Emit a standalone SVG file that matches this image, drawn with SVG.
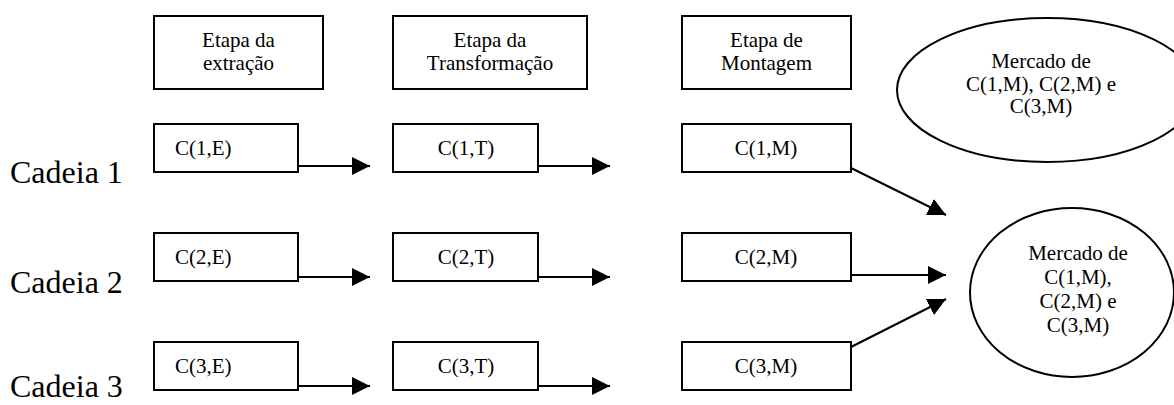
<svg xmlns="http://www.w3.org/2000/svg" width="1174" height="405" viewBox="0 0 1174 405">
<defs>
<style>
.box{fill:#fff;stroke:#000;stroke-width:2}
.t{font-family:"Liberation Serif","Times New Roman",serif;font-size:21px;fill:#000}
.c{text-anchor:middle}
.big{font-family:"Liberation Serif","Times New Roman",serif;font-size:32px;fill:#000}
.ln{stroke:#000;stroke-width:2;fill:none}
</style>
<marker id="ah" markerUnits="userSpaceOnUse" markerWidth="18" markerHeight="18" viewBox="0 0 16 16" refX="16" refY="8" orient="auto">
<path d="M0,0 L16,8 L0,16 Z" fill="#000"/>
</marker>
</defs>
<rect width="1174" height="405" fill="#fff"/>

<g id="stage-extracao"><rect class="box" x="154" y="16" width="169" height="73"/>
<text class="t c" x="238.5" y="47">Etapa da</text><text class="t c" x="238.5" y="70">extração</text></g>
<g id="stage-transformacao"><rect class="box" x="393" y="16" width="194" height="73"/>
<text class="t c" x="490" y="47">Etapa da</text><text class="t c" x="490" y="70">Transformação</text></g>
<g id="stage-montagem"><rect class="box" x="682" y="16" width="169" height="73"/>
<text class="t c" x="766.5" y="47">Etapa de</text><text class="t c" x="766.5" y="70">Montagem</text></g>
<g id="market-top"><ellipse class="box" cx="1047" cy="90" rx="150" ry="72"/>
<text class="t c" x="1041" y="68">Mercado de</text><text class="t c" x="1041" y="91">C(1,M), C(2,M) e</text><text class="t c" x="1041" y="113">C(3,M)</text></g>

<g id="label-cadeia1"><text class="big" x="10" y="183">Cadeia 1</text></g>
<g id="label-cadeia2"><text class="big" x="10" y="293">Cadeia 2</text></g>
<g id="label-cadeia3"><text class="big" x="10" y="397">Cadeia 3</text></g>

<g id="c1e"><rect class="box" x="154" y="124" width="144" height="48"/><text class="t" x="175" y="155">C(1,E)</text></g>
<g id="c2e"><rect class="box" x="154" y="233" width="144" height="48"/><text class="t" x="175" y="264">C(2,E)</text></g>
<g id="c3e"><rect class="box" x="154" y="342" width="144" height="48"/><text class="t" x="175" y="373">C(3,E)</text></g>

<g id="c1t"><rect class="box" x="393" y="124" width="145" height="48"/><text class="t c" x="466" y="155">C(1,T)</text></g>
<g id="c2t"><rect class="box" x="393" y="233" width="145" height="48"/><text class="t c" x="466" y="264">C(2,T)</text></g>
<g id="c3t"><rect class="box" x="393" y="342" width="145" height="48"/><text class="t c" x="466" y="373">C(3,T)</text></g>

<g id="c1m"><rect class="box" x="682" y="124" width="169" height="48"/><text class="t c" x="766" y="155">C(1,M)</text></g>
<g id="c2m"><rect class="box" x="682" y="233" width="169" height="48"/><text class="t c" x="766" y="264">C(2,M)</text></g>
<g id="c3m"><rect class="box" x="682" y="342" width="169" height="48"/><text class="t c" x="766" y="373">C(3,M)</text></g>

<g id="market-bottom"><ellipse class="box" cx="1072" cy="292.5" rx="102" ry="84.5"/>
<text class="t c" x="1078" y="260">Mercado de</text><text class="t c" x="1078" y="284">C(1,M),</text><text class="t c" x="1078" y="308">C(2,M) e</text><text class="t c" x="1078" y="332">C(3,M)</text></g>

<g id="connectors">
<line class="ln" x1="298" y1="166" x2="370" y2="166" marker-end="url(#ah)"/>
<line class="ln" x1="298" y1="277" x2="370" y2="277" marker-end="url(#ah)"/>
<line class="ln" x1="298" y1="386" x2="370" y2="386" marker-end="url(#ah)"/>
<line class="ln" x1="538" y1="166" x2="610" y2="166" marker-end="url(#ah)"/>
<line class="ln" x1="538" y1="277" x2="610" y2="277" marker-end="url(#ah)"/>
<line class="ln" x1="538" y1="386" x2="610" y2="386" marker-end="url(#ah)"/>
<line class="ln" x1="851" y1="168" x2="946" y2="215" marker-end="url(#ah)"/>
<line class="ln" x1="851" y1="275" x2="946" y2="275" marker-end="url(#ah)"/>
<line class="ln" x1="851" y1="347" x2="946" y2="299" marker-end="url(#ah)"/>
</g>
</svg>
